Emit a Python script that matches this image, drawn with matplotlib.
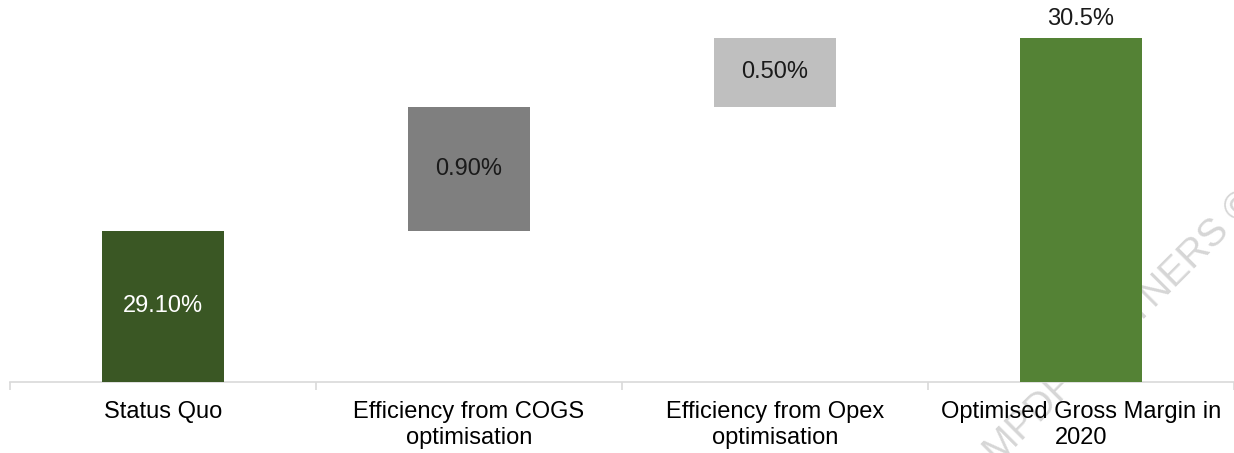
import matplotlib
matplotlib.use("Agg")
import matplotlib.pyplot as plt
import numpy as np

plt.rcParams['font.family'] = ['Liberation Sans', 'DejaVu Sans']

categories = ["Status Quo", "Efficiency from COGS\noptimisation",
              "Efficiency from Opex\noptimisation", "Optimised Gross Margin in\n2020"]
start_value = 29.10
increments = [0.90, 0.50]
final_value = 30.5
value_labels = ["29.10%", "0.90%", "0.50%", "30.5%"]
bar_colors = ["#3a5724", "#7f7f7f", "#bfbfbf", "#548235"]
label_colors = ["white", "#1a1a1a", "#1a1a1a", "#1a1a1a"]

fig = plt.figure(figsize=(12.34, 4.53), dpi=100)
ax = fig.add_axes([10 / 1234, 71 / 453, 1 - 10 / 1234, 382 / 453])

x = np.arange(len(categories))
width = 0.4

# Waterfall: start bar, floating increments, total bar
bottoms = [0]
heights = [start_value]
running = start_value
for inc in increments:
    bottoms.append(running)
    heights.append(inc)
    running += inc
bottoms.append(0)
heights.append(final_value)

ax.bar(x, heights, bottom=bottoms, width=width, color=bar_colors, zorder=3)

ymin = 28.0
ax.set_ylim(ymin, 30.775)
ax.set_xlim(-0.5, len(categories) - 0.5)

for i, (b, h) in enumerate(zip(bottoms, heights)):
    if i == len(categories) - 1:
        ax.text(x[i], b + h + 0.06, value_labels[i], ha="center", va="bottom",
                fontsize=17, color=label_colors[i], zorder=4)
    else:
        lo = max(b, ymin)
        ax.text(x[i], (lo + b + h) / 2, value_labels[i], ha="center", va="center",
                fontsize=17, color=label_colors[i], zorder=4)

# Watermark, drawn behind the bars and labels
ax.text(0.803, -0.01, "MPDF PARTNERS ©", transform=fig.transFigure, rotation=45,
        rotation_mode="anchor", ha="left", va="center", fontsize=28,
        color="#d6d6d6", zorder=1, clip_on=False)

for s in ["top", "right", "left"]:
    ax.spines[s].set_visible(False)
ax.spines["bottom"].set_color("#d9d9d9")
ax.spines["bottom"].set_linewidth(1.2)
ax.set_yticks([])

ax.set_xticks(np.arange(-0.5, len(categories)), minor=False)
ax.tick_params(axis="x", length=6, color="#d9d9d9", width=1.2, labelbottom=False)
for i, c in enumerate(categories):
    ax.text(x[i], -0.05, c, transform=ax.get_xaxis_transform(), ha="center", va="top",
            fontsize=17, color="#000000", linespacing=1.25, zorder=3)

fig.savefig("out.png", dpi=100)
